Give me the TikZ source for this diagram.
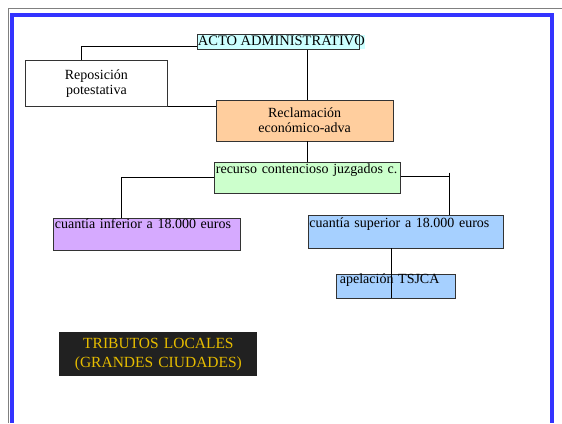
\documentclass[tikz,border=0pt]{standalone}
\usepackage{fontspec}
\setmainfont{Liberation Serif}
\definecolor{cian}{RGB}{204,255,255}
\definecolor{naranja}{RGB}{255,206,158}
\definecolor{verde}{RGB}{204,255,204}
\definecolor{lila}{RGB}{214,170,255}
\definecolor{celeste}{RGB}{166,208,255}
\definecolor{marco}{RGB}{51,51,255}
\definecolor{oro}{RGB}{230,188,0}
\begin{document}
\begin{tikzpicture}[x=1pt,y=-1pt,
    caja/.style={draw=black!80,line width=.8pt,anchor=north west,inner sep=0pt,
      font=\fontsize{14}{15}\selectfont},
    arriba/.style={caja,inner xsep=1.5pt,align=left},
    linea/.style={line width=.7pt}]
  \useasboundingbox (0,0) rectangle (562,423);
  \draw[gray,line width=1pt] (8.5,423)--(8.5,8.5)--(562,8.5);
  \draw[marco,line width=3.8pt] (11.8,423)--(11.8,14.7)--(552,14.7)--(552,423);
  % cajas
  \node[caja,draw=none,fill=cian,anchor=west,inner xsep=.5pt,text height=10pt,
    text depth=3.5pt,minimum height=14.6pt,font=\fontsize{14.5}{15}\selectfont]
    (acto) at (197,42) {ACTO ADMINISTRATIVO};
  \draw[black!80,line width=.8pt] (acto.north west) rectangle ([xshift=-6pt]acto.south east);
  \node[caja,minimum width=142pt,minimum height=46pt,align=center] (repo) at (25,60)
    {Reposición\\potestativa};
  \node[caja,fill=naranja,minimum width=177.5pt,minimum height=41pt,align=center]
    (recl) at (215.5,99.5) {Reclamación\\económico-adva};
  \node[arriba,fill=verde,text width=183pt,text height=11.5pt,text depth=20pt]
    (recur) at (214,161.5) {recurso contencioso juzgados c.};
  \node[arriba,fill=lila,text width=183.5pt,text height=11pt,text depth=21.5pt]
    (infe) at (53,217.5) {cuantía inferior a 18.000 euros};
  \node[arriba,fill=celeste,text width=192.5pt,text height=11.7pt,text depth=20.8pt]
    (supe) at (307.5,215) {cuantía superior a 18.000 euros};
  \node[arriba,fill=celeste,inner xsep=3.5pt,text width=112pt,text height=9.3pt,
    text depth=14.2pt] (apel) at (336,274) {apelación TSJCA};
  \node[caja,draw=none,fill=black!87,text=oro,font=\fontsize{15.5}{19}\selectfont,
    text width=198pt,align=center,minimum height=44pt] (trib) at (59,332)
    {TRIBUTOS LOCALES\\(GRANDES CIUDADES)};
  % conectores
  \coordinate (codo) at (449,172.5);
  \coordinate (pie) at ([xshift=-14pt]supe.south);
  \draw[linea] ([yshift=-4pt]acto.west) -| ([xshift=-15pt]repo.north);
  \draw[linea] (recur.north |- acto.south) -- (recur.north |- recl.north);
  \draw[linea] (repo.south east) -- (repo.south east -| recl.west);
  \draw[linea] (recur.north |- recl.south) -- (recur.north);
  \draw[linea] (recur.west) -| ([xshift=-25pt]infe.north);
  \draw[linea] ([yshift=1.5pt]recur.east) -- ([yshift=1.5pt]recur.east -| codo);
  \draw[linea] (codo) -- (codo |- supe.north);
  \draw[linea] (pie) -- (pie |- apel.south);
\end{tikzpicture}
\end{document}
